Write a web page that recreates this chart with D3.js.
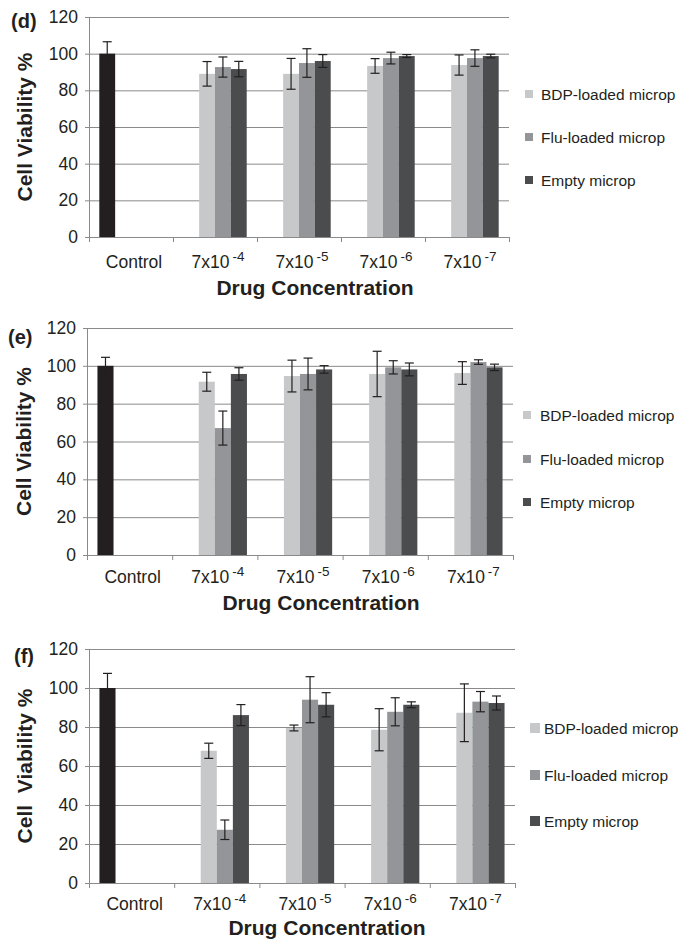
<!DOCTYPE html>
<html>
<head>
<meta charset="utf-8">
<script src="https://d3js.org/d3.v7.min.js"></script>
<style>
  body { margin: 0; background: #fff; }
  text { font-family: "Liberation Sans", Arial, sans-serif; fill: #231f20; }
  .bold { font-weight: bold; }
</style>
</head>
<body>
<script>
// categories and series
var categories = ["Control", "7x10^-4", "7x10^-5", "7x10^-6", "7x10^-7"];
var seriesNames = ["Control", "BDP-loaded microp", "Flu-loaded microp", "Empty microp"];
var yTicks = [0, 20, 40, 60, 80, 100, 120];

// panel (d)
var controlD = [100, null, null, null, null];
var controlErrD = [6.5, null, null, null, null];
var bdpD = [null, 89, 89, 93.3, 93.8];
var bdpErrD = [null, 6.7, 8.4, 4, 5.5];
var fluD = [null, 92.7, 94.9, 97.6, 97.6];
var fluErrD = [null, 5.5, 7.8, 3.2, 4.5];
var emptyD = [null, 91.6, 96, 98.7, 98.7];
var emptyErrD = [null, 4.2, 3.5, 0.8, 1];

// panel (e)
var controlE = [100, null, null, null, null];
var controlErrE = [4.5, null, null, null, null];
var bdpE = [null, 91.6, 94.6, 95.7, 96.2];
var bdpErrE = [null, 5, 8.4, 12, 6];
var fluE = [null, 67.1, 95.7, 99.2, 102];
var fluErrE = [null, 9, 8.4, 3.5, 1.2];
var emptyE = [null, 95.7, 98.1, 98.1, 99.2];
var emptyErrE = [null, 3.3, 2, 3.4, 1.7];

// panel (f)
var controlF = [100, null, null, null, null];
var controlErrF = [7.5, null, null, null, null];
var bdpF = [null, 67.8, 79.5, 78.6, 87.3];
var bdpErrF = [null, 3.9, 1.5, 10.8, 14.8];
var fluF = [null, 27.3, 94, 87.8, 93];
var fluErrF = [null, 5, 11.8, 7.2, 5.2];
var emptyF = [null, 86.1, 91.4, 91.4, 92.3];
var emptyErrF = [null, 5.4, 6.2, 1.5, 3.6];

var colors = ["#231f20", "#c7c8ca", "#939598", "#4b4c4e"];

var panels = [
  { tag: "(d)", ylab: "Cell Viability %", x0: 89, x1: 509, top: 17, bottom: 237,
    tagX: 11, tagY: 28, ylabX: 32, tickY: 31, titleX: 315, titleY: 295,
    legSq: 525, legSize: 8, legText: 541, legRows: [94, 137, 180],
    vals: [controlD, bdpD, fluD, emptyD], errs: [controlErrD, bdpErrD, fluErrD, emptyErrD] },
  { tag: "(e)", ylab: "Cell Viability %", x0: 87, x1: 513, top: 328, bottom: 555,
    tagX: 8, tagY: 344, ylabX: 31, tickY: 28, titleX: 321, titleY: 610,
    legSq: 523, legSize: 8, legText: 540, legRows: [415, 459, 502],
    vals: [controlE, bdpE, fluE, emptyE], errs: [controlErrE, bdpErrE, fluErrE, emptyErrE] },
  { tag: "(f)", ylab: "Cell  Viability %", x0: 89, x1: 515, top: 649, bottom: 883,
    tagX: 14, tagY: 663, ylabX: 32, tickY: 27, titleX: 327, titleY: 935,
    legSq: 530, legSize: 10, legText: 544, legRows: [728, 775, 821],
    vals: [controlF, bdpF, fluF, emptyF], errs: [controlErrF, bdpErrF, fluErrF, emptyErrF] }
];

var svg = d3.select("body").append("svg")
    .attr("width", 695)
    .attr("height", 943);

svg.append("rect").attr("width", 695).attr("height", 943).attr("fill", "#fff");

panels.forEach(function(p) {
  var w = p.x1 - p.x0;
  var g = svg.append("g");

  var x = d3.scaleBand()
      .domain(categories)
      .range([p.x0, p.x1]);

  var xs = d3.scaleBand()
      .domain(seriesNames)
      .range([0, x.bandwidth()])
      .paddingOuter(0.65);

  var y = d3.scaleLinear()
      .domain([0, 120])
      .range([p.bottom, p.top]);

  // y axis with gridlines
  var yAxis = g.append("g")
      .attr("transform", "translate(" + p.x0 + ",0)")
      .call(d3.axisLeft(y).tickValues(yTicks).tickSize(0).tickPadding(11));
  yAxis.select(".domain").attr("stroke", "#8a8a8a");
  yAxis.selectAll(".tick line")
      .attr("x1", -4).attr("x2", w)
      .attr("stroke", "#8a8a8a");
  yAxis.selectAll(".tick text")
      .style("font-size", "17.5px")
      .attr("fill", "#231f20");

  // bars
  p.vals.forEach(function(arr, si) {
    var data = categories.map(function(c, i) {
      return { cat: c, v: arr[i], e: p.errs[si][i] };
    }).filter(function(d) { return d.v != null; });

    g.selectAll(".bar" + si)
      .data(data)
      .enter().append("rect")
        .attr("x", function(d) { return x(d.cat) + xs(seriesNames[si]); })
        .attr("width", xs.bandwidth())
        .attr("y", function(d) { return y(d.v); })
        .attr("height", function(d) { return y(0) - y(d.v); })
        .attr("fill", colors[si]);

    var eb = g.selectAll(".err" + si)
      .data(data)
      .enter().append("g")
        .attr("stroke", "#231f20")
        .attr("stroke-width", 1.2);
    var cx = function(d) { return x(d.cat) + xs(seriesNames[si]) + xs.bandwidth() / 2; };
    eb.append("line")
        .attr("x1", cx).attr("x2", cx)
        .attr("y1", function(d) { return y(d.v + d.e); })
        .attr("y2", function(d) { return y(d.v - d.e); });
    eb.append("line")
        .attr("x1", function(d) { return cx(d) - 4.5; })
        .attr("x2", function(d) { return cx(d) + 4.5; })
        .attr("y1", function(d) { return y(d.v + d.e); })
        .attr("y2", function(d) { return y(d.v + d.e); });
    eb.append("line")
        .attr("x1", function(d) { return cx(d) - 4.5; })
        .attr("x2", function(d) { return cx(d) + 4.5; })
        .attr("y1", function(d) { return y(d.v - d.e); })
        .attr("y2", function(d) { return y(d.v - d.e); });
  });

  // x axis: ticks at category boundaries
  var xb = d3.scaleLinear().domain([0, categories.length]).range([p.x0, p.x1]);
  var xTicks = g.append("g")
      .attr("transform", "translate(0," + p.bottom + ")")
      .call(d3.axisBottom(xb).ticks(categories.length).tickSize(5).tickFormat(""));
  xTicks.selectAll("path, line").attr("stroke", "#8a8a8a");

  // x axis labels at band centres
  var xLab = g.append("g")
      .attr("transform", "translate(3," + p.bottom + ")")
      .call(d3.axisBottom(x).tickSize(0));
  xLab.select(".domain").remove();
  xLab.selectAll(".tick text")
      .attr("y", p.tickY).attr("dy", 0)
      .style("font-size", "17.5px")
      .attr("fill", "#231f20")
      .each(function(d) {
        var t = d3.select(this);
        var parts = d.split("^");
        t.text(null);
        t.append("tspan").text(parts[0]);
        if (parts[1]) {
          t.append("tspan")
              .attr("dx", 3)
              .attr("dy", -7)
              .style("font-size", "13.5px")
              .text(parts[1]);
        }
      });

  // titles
  g.append("text")
      .attr("class", "bold")
      .attr("x", p.tagX).attr("y", p.tagY)
      .style("font-size", "20px")
      .text(p.tag);

  g.append("text")
      .attr("class", "bold")
      .attr("transform", "translate(" + p.ylabX + "," + ((p.top + p.bottom) / 2) + ") rotate(-90)")
      .attr("text-anchor", "middle")
      .style("font-size", "21px")
      .style("white-space", "pre")
      .text(p.ylab);

  g.append("text")
      .attr("class", "bold")
      .attr("x", p.titleX).attr("y", p.titleY)
      .attr("text-anchor", "middle")
      .style("font-size", "21px")
      .text("Drug Concentration");

  // legend
  var leg = g.selectAll(".leg")
      .data(seriesNames.slice(1))
      .enter().append("g")
        .attr("transform", function(d, i) { return "translate(0," + p.legRows[i] + ")"; });
  leg.append("rect")
      .attr("x", p.legSq)
      .attr("y", -p.legSize / 2)
      .attr("width", p.legSize)
      .attr("height", p.legSize)
      .attr("fill", function(d, i) { return colors[i + 1]; });
  leg.append("text")
      .attr("x", p.legText)
      .attr("y", 5.5)
      .style("font-size", "15.5px")
      .text(function(d) { return d; });
});
</script>
</body>
</html>
